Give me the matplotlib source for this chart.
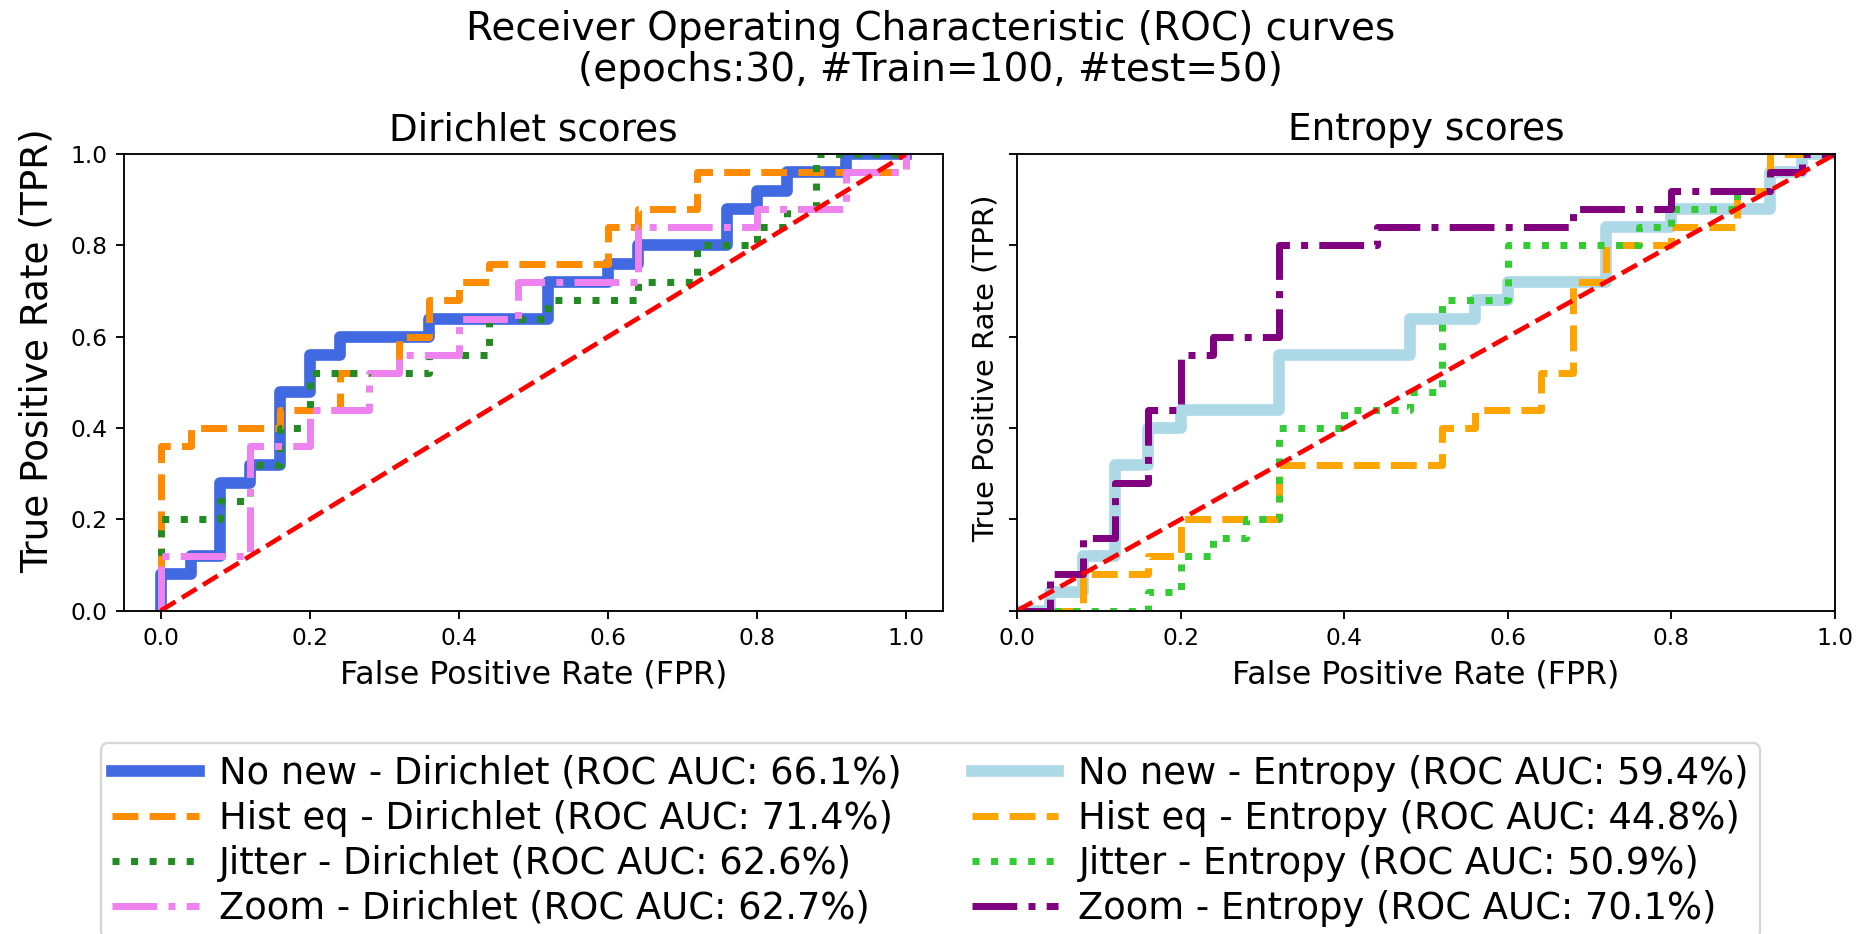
import matplotlib
matplotlib.use("Agg")
import matplotlib.pyplot as plt

# ROC curve vertices (FPR, TPR), 25 positives / 25 negatives in test set
# --- Dirichlet scores ---
fpr_nonew_dir = [0, 0, 0.04, 0.04, 0.08, 0.08, 0.12, 0.12, 0.16, 0.16, 0.20, 0.20, 0.24, 0.24, 0.36, 0.36,
                 0.52, 0.52, 0.60, 0.60, 0.64, 0.64, 0.76, 0.76, 0.80, 0.80, 0.84, 0.84, 0.92, 0.92, 1.0]
tpr_nonew_dir = [0, 0.08, 0.08, 0.12, 0.12, 0.28, 0.28, 0.32, 0.32, 0.48, 0.48, 0.56, 0.56, 0.60, 0.60, 0.64,
                 0.64, 0.72, 0.72, 0.76, 0.76, 0.80, 0.80, 0.88, 0.88, 0.92, 0.92, 0.96, 0.96, 1.0, 1.0]

fpr_histeq_dir = [0, 0, 0.04, 0.04, 0.16, 0.16, 0.24, 0.24, 0.32, 0.32, 0.36, 0.36, 0.40, 0.40, 0.44, 0.44,
                  0.60, 0.60, 0.64, 0.64, 0.72, 0.72, 1.0, 1.0]
tpr_histeq_dir = [0, 0.36, 0.36, 0.40, 0.40, 0.44, 0.44, 0.52, 0.52, 0.60, 0.60, 0.68, 0.68, 0.72, 0.72, 0.76,
                  0.76, 0.84, 0.84, 0.88, 0.88, 0.96, 0.96, 1.0]

fpr_jitter_dir = [0, 0, 0.08, 0.08, 0.12, 0.12, 0.16, 0.16, 0.20, 0.20, 0.36, 0.36, 0.44, 0.44, 0.52, 0.52,
                  0.64, 0.64, 0.72, 0.72, 0.80, 0.80, 0.84, 0.84, 0.88, 0.88, 1.0]
tpr_jitter_dir = [0, 0.20, 0.20, 0.24, 0.24, 0.32, 0.32, 0.40, 0.40, 0.52, 0.52, 0.56, 0.56, 0.64, 0.64, 0.68,
                  0.68, 0.72, 0.72, 0.80, 0.80, 0.84, 0.84, 0.88, 0.88, 1.0, 1.0]

fpr_zoom_dir = [0, 0, 0.12, 0.12, 0.20, 0.20, 0.28, 0.28, 0.32, 0.32, 0.40, 0.40, 0.48, 0.48, 0.64, 0.64,
                0.80, 0.80, 0.92, 0.92, 1.0, 1.0]
tpr_zoom_dir = [0, 0.12, 0.12, 0.36, 0.36, 0.44, 0.44, 0.52, 0.52, 0.56, 0.56, 0.64, 0.64, 0.72, 0.72, 0.84,
                0.84, 0.88, 0.88, 0.96, 0.96, 1.0]

# --- Entropy scores ---
fpr_nonew_ent = [0, 0.04, 0.04, 0.08, 0.08, 0.12, 0.12, 0.16, 0.16, 0.20, 0.20, 0.32, 0.32, 0.48, 0.48, 0.56,
                 0.56, 0.60, 0.60, 0.72, 0.72, 0.80, 0.80, 0.92, 0.92, 0.96, 0.96, 1.0]
tpr_nonew_ent = [0, 0, 0.04, 0.04, 0.12, 0.12, 0.32, 0.32, 0.40, 0.40, 0.44, 0.44, 0.56, 0.56, 0.64, 0.64,
                 0.68, 0.68, 0.72, 0.72, 0.84, 0.84, 0.88, 0.88, 0.96, 0.96, 1.0, 1.0]

fpr_histeq_ent = [0, 0.08, 0.08, 0.16, 0.16, 0.20, 0.20, 0.32, 0.32, 0.52, 0.52, 0.56, 0.56, 0.64, 0.64, 0.68,
                  0.68, 0.72, 0.72, 0.80, 0.80, 0.88, 0.88, 0.92, 0.92, 1.0]
tpr_histeq_ent = [0, 0, 0.08, 0.08, 0.12, 0.12, 0.20, 0.20, 0.32, 0.32, 0.40, 0.40, 0.44, 0.44, 0.52, 0.52,
                  0.72, 0.72, 0.80, 0.80, 0.84, 0.84, 0.92, 0.92, 1.0, 1.0]

fpr_jitter_ent = [0, 0.16, 0.16, 0.20, 0.20, 0.24, 0.24, 0.28, 0.28, 0.32, 0.32, 0.40, 0.40, 0.48, 0.48, 0.52,
                  0.52, 0.60, 0.60, 0.76, 0.76, 0.80, 0.80, 0.88, 0.88, 0.92, 0.92, 0.96, 0.96, 1.0]
tpr_jitter_ent = [0, 0, 0.04, 0.04, 0.12, 0.12, 0.16, 0.16, 0.20, 0.20, 0.40, 0.40, 0.44, 0.44, 0.48, 0.48,
                  0.68, 0.68, 0.80, 0.80, 0.84, 0.84, 0.88, 0.88, 0.92, 0.92, 0.96, 0.96, 1.0, 1.0]

fpr_zoom_ent = [0, 0.04, 0.04, 0.08, 0.08, 0.12, 0.12, 0.16, 0.16, 0.20, 0.20, 0.24, 0.24, 0.32, 0.32, 0.44,
                0.44, 0.68, 0.68, 0.80, 0.80, 0.92, 0.92, 0.96, 0.96, 1.0]
tpr_zoom_ent = [0, 0, 0.08, 0.08, 0.16, 0.16, 0.28, 0.28, 0.44, 0.44, 0.56, 0.56, 0.60, 0.60, 0.80, 0.80,
                0.84, 0.84, 0.88, 0.88, 0.92, 0.92, 0.96, 0.96, 1.0, 1.0]

auc_dir = [66.1, 71.4, 62.6, 62.7]
auc_ent = [59.4, 44.8, 50.9, 70.1]
methods = ["No new", "Hist eq", "Jitter", "Zoom"]

dir_curves = [(fpr_nonew_dir, tpr_nonew_dir), (fpr_histeq_dir, tpr_histeq_dir),
              (fpr_jitter_dir, tpr_jitter_dir), (fpr_zoom_dir, tpr_zoom_dir)]
ent_curves = [(fpr_nonew_ent, tpr_nonew_ent), (fpr_histeq_ent, tpr_histeq_ent),
              (fpr_jitter_ent, tpr_jitter_ent), (fpr_zoom_ent, tpr_zoom_ent)]

dir_styles = [("royalblue", "-", 5), ("darkorange", "--", 3), ("forestgreen", ":", 3), ("violet", "-.", 3)]
ent_styles = [("lightblue", "-", 5), ("orange", "--", 3), ("limegreen", ":", 3), ("purple", "-.", 3)]

fig = plt.figure(figsize=(1861 / 168, 934 / 168), dpi=168)
ax1 = fig.add_axes([0.0664, 0.3462, 0.4404, 0.4887])
ax2 = fig.add_axes([0.5466, 0.3462, 0.4394, 0.4887], sharey=ax1)

handles = []
for (fpr, tpr), (c, ls, lw), m, a in zip(dir_curves, dir_styles, methods, auc_dir):
    h, = ax1.plot(fpr, tpr, color=c, linestyle=ls, linewidth=lw,
                  label=f"{m} - Dirichlet (ROC AUC: {a}%)")
    handles.append(h)
ax1.plot([0, 1], [0, 1], "r--", linewidth=2)
ax1.set_ylim(0, 1)
ax1.set_title("Dirichlet scores", fontsize=16)
ax1.set_xlabel("False Positive Rate (FPR)", fontsize=13.5)
ax1.set_ylabel("True Positive Rate (TPR)", fontsize=16, y=0.57, labelpad=6)

for (fpr, tpr), (c, ls, lw), m, a in zip(ent_curves, ent_styles, methods, auc_ent):
    h, = ax2.plot(fpr, tpr, color=c, linestyle=ls, linewidth=lw,
                  label=f"{m} - Entropy (ROC AUC: {a}%)")
    handles.append(h)
ax2.plot([0, 1], [0, 1], "r--", linewidth=2)
ax2.set_xlim(0, 1)
ax2.set_ylim(0, 1)
ax2.tick_params(labelleft=False)
ax2.set_title("Entropy scores", fontsize=16)
ax2.set_xlabel("False Positive Rate (FPR)", fontsize=13.5)
ax2.set_ylabel("True Positive Rate (TPR)", fontsize=12.5, y=0.53)

fig.suptitle("Receiver Operating Characteristic (ROC) curves\n(epochs:30, #Train=100, #test=50)",
             fontsize=16.7, y=0.989, va="top", linespacing=1.1)
fig.legend(handles=handles, loc="upper center", bbox_to_anchor=(0.5, 0.204), ncol=2,
           fontsize=15.8, handlelength=2.35, handletextpad=0.55, labelspacing=0.22,
           columnspacing=1.9, borderpad=0.3, borderaxespad=0)

fig.savefig("out.png", dpi=168)
